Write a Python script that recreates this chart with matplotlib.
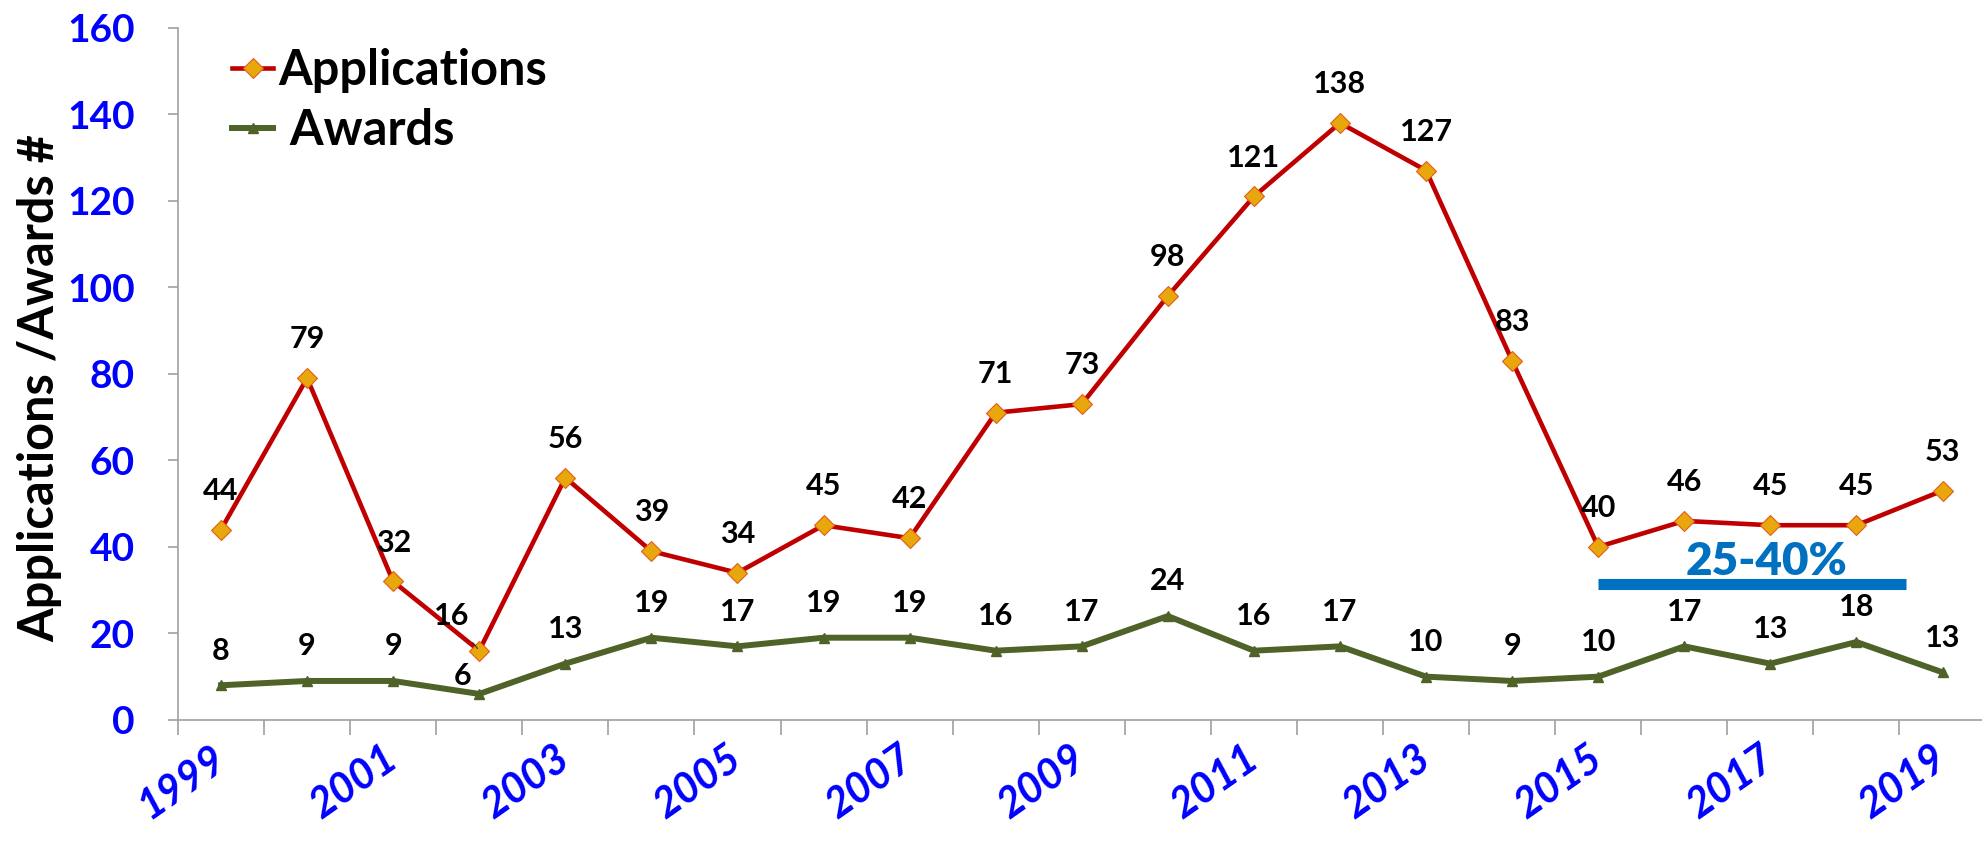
import matplotlib.pyplot as plt

years = list(range(1999, 2020))
applications = [44, 79, 32, 16, 56, 39, 34, 45, 42, 71, 73, 98, 121, 138, 127, 83, 40, 46, 45, 45, 53]
awards = [8, 9, 9, 6, 13, 19, 17, 19, 19, 16, 17, 24, 16, 17, 10, 9, 10, 17, 13, 18, 11]
award_labels = [8, 9, 9, 6, 13, 19, 17, 19, 19, 16, 17, 24, 16, 17, 10, 9, 10, 17, 13, 18, 13]
band_text = "25-40%"
band_level = 31.3
band_start, band_end = 16, 19.57

plt.rcParams['font.family'] = ['Lato', 'DejaVu Sans']
plt.rcParams['font.weight'] = 'bold'

fig = plt.figure(figsize=(19.82, 8.41), dpi=100)
ax = fig.add_axes([0.0898, 0.144, 0.912, 0.823])

x = list(range(len(years)))
ax.plot(x, applications, color='#C00000', lw=3.3, marker='D', ms=10,
        mfc='#E8A70C', mec='#E0601A', mew=0.8, label='Applications', zorder=3)
ax.plot(x, awards, color='#4F6228', lw=4.3, marker='^', ms=7,
        mfc='#4F6228', mec='#4F6228', label=' Awards', zorder=3)

# data labels
for i, v in enumerate(applications):
    if i == 3:
        # label pulled up-left with a leader line
        ax.annotate(str(v), (i, v), xytext=(-20, 25), textcoords='offset points',
                    ha='center', va='center', fontsize=22, fontweight='bold', color='black',
                    arrowprops=dict(arrowstyle='-', color='#303030', lw=0.8, shrinkA=9, shrinkB=2))
        continue
    ax.annotate(str(v), (i, v), xytext=(0, 28), textcoords='offset points',
                ha='center', va='center', fontsize=22, fontweight='bold', color='black')
for i, v in enumerate(awards):
    dx, dy = (-12, 13) if i == 3 else (0, 25)
    ax.annotate(str(award_labels[i]), (i, v), xytext=(dx, dy), textcoords='offset points',
                ha='center', va='center', fontsize=22, fontweight='bold', color='black')

# 25-40% band
ax.hlines(band_level, band_start, band_end, color='#0070C0', lw=8, zorder=2)
ax.text(17.95, band_level + 0.6, band_text, ha='center', va='bottom',
        fontsize=33, fontweight='heavy', color='#0070C0')

ax.set_ylim(0, 160)
ax.set_xlim(-0.5, 20.45)
ax.set_yticks(range(0, 161, 20))
ax.tick_params(axis='y', length=7, width=1.2, color='#A0A0A0', pad=24,
               labelsize=28, labelcolor='#0000FF')
for t in ax.get_yticklabels():
    t.set_fontweight('bold')

ax.set_xticks([i - 0.5 for i in range(len(years) + 1)])
ax.set_xticklabels([])
ax.tick_params(axis='x', which='major', length=11, width=1.2, color='#A0A0A0')
ax.set_xticks(x[::2], labels=[str(y) for y in years[::2]], minor=True)
ax.tick_params(axis='x', which='minor', length=0, pad=25, labelsize=30, labelcolor='#0000FF')
plt.setp(ax.get_xticklabels(minor=True), rotation=35, ha='right', va='center',
         rotation_mode='anchor', fontweight='bold', style='italic')

for s in ['top', 'right']:
    ax.spines[s].set_visible(False)
for s in ['left', 'bottom']:
    ax.spines[s].set_color('#A0A0A0')
    ax.spines[s].set_linewidth(1.2)

ax.set_ylabel('Applications /Awards #', fontsize=35, fontweight='bold')
ax.yaxis.set_label_coords(-0.064, 0.48)

ax.legend(loc='upper left', bbox_to_anchor=(0.117, 0.943), bbox_transform=fig.transFigure,
          frameon=False, fontsize=35, handlelength=0.85, handletextpad=0.1,
          labelspacing=0.3, borderpad=0, borderaxespad=0)

fig.savefig('out.png', dpi=100)
